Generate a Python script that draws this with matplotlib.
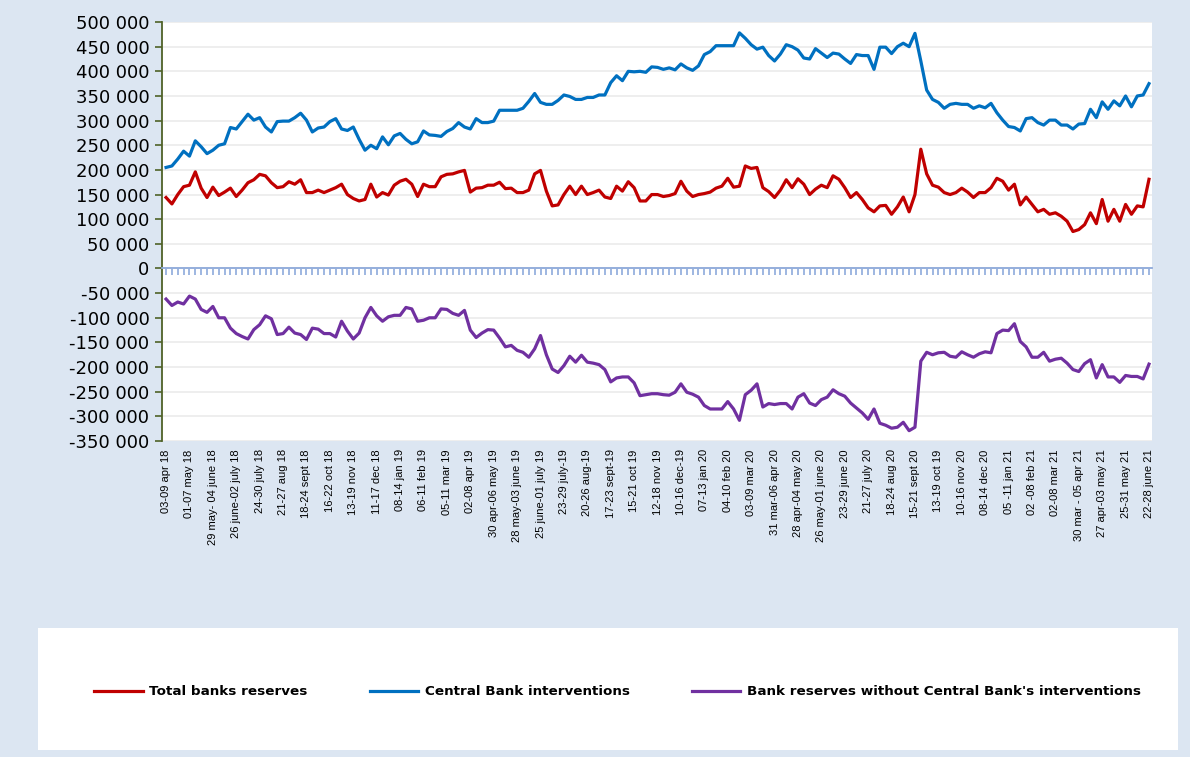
import numpy as np
import matplotlib
matplotlib.use("Agg")
import matplotlib.pyplot as plt
from matplotlib.ticker import FuncFormatter, FixedLocator
from matplotlib.patches import Rectangle

# ---------------- data (weekly, thousands) ----------------
total_reserves = [
    144, 131, 150, 166, 169, 196, 163, 144, 165, 148, 155, 163, 146, 159, 174, 180, 191, 188, 174, 164,
    166, 176, 171, 180, 154, 154, 159, 154, 159, 164, 171, 150, 142, 137, 140, 171, 145, 154, 149, 169,
    177, 181, 171, 146, 171, 166, 166, 186, 191, 192, 196, 199, 155, 163, 164, 169, 169, 175, 162, 163,
    154, 154, 159, 192, 199, 157, 127, 129, 150, 167, 150, 167, 150, 154, 159, 145, 142, 167, 157, 176,
    164, 137, 137, 150, 150, 146, 148, 152, 177, 157, 146, 150, 152, 155, 163, 167, 183, 165, 167, 208,
    203, 205, 164, 156, 144, 159, 180, 164, 182, 171, 150, 161, 169, 164, 188, 181, 164, 144, 154, 140,
    123, 115, 127, 128, 110, 125, 145, 115, 150, 242, 192, 169, 165, 154, 150, 154, 163, 155, 144, 154,
    154, 164, 183, 177, 159, 171, 129, 145, 130, 115, 120, 110, 113, 106, 96, 75, 79, 89, 113, 91,
    140, 96, 120, 96, 130, 110, 127, 125, 181,
]
central_bank = [
    205, 208, 222, 238, 228, 259, 247, 233, 240, 250, 253, 286, 283, 298, 313, 301, 306, 287, 277, 298,
    299, 299, 306, 315, 301, 277, 285, 287, 298, 304, 283, 280, 287, 262, 240, 250, 243, 267, 251, 269,
    274, 262, 253, 257, 279, 271, 270, 268, 278, 284, 296, 287, 283, 304, 296, 296, 299, 321, 321, 321,
    321, 325, 339, 355, 337, 333, 333, 341, 352, 349, 343, 343, 347, 347, 352, 352, 377, 391, 381, 400,
    399, 400, 398, 409, 408, 404, 407, 403, 415, 407, 402, 411, 434, 440, 452, 452, 452, 452, 478, 467,
    454, 445, 449, 432, 421, 435, 454, 450, 443, 427, 425, 446, 437, 428, 437, 435, 425, 416, 434, 432,
    432, 404, 449, 449, 436, 450, 457, 450, 477, 421, 362, 343, 337, 325, 333, 335, 333, 333, 325, 330,
    326, 335, 316, 301, 288, 286, 279, 304, 306, 296, 291, 301, 301, 291, 291, 283, 293, 294, 323, 306,
    338, 323, 340, 330, 350, 328, 350, 352, 375,
]
without_cb = [
    -62, -75, -68, -72, -56, -62, -83, -89, -77, -100, -100, -121, -132, -138, -143, -124, -114, -96, -102, -134,
    -132, -119, -131, -134, -144, -121, -123, -132, -132, -139, -107, -127, -143, -131, -100, -79, -96, -107, -98, -95,
    -95, -79, -82, -107, -105, -100, -100, -82, -83, -91, -95, -85, -125, -140, -131, -124, -125, -141, -159, -156,
    -166, -170, -180, -163, -136, -175, -204, -211, -197, -178, -190, -176, -190, -192, -195, -205, -230, -222, -220, -220,
    -232, -258, -256, -254, -254, -256, -257, -251, -234, -251, -255, -261, -278, -285, -285, -285, -270, -285, -308, -256,
    -247, -234, -281, -274, -276, -274, -274, -285, -261, -254, -273, -278, -266, -261, -246, -254, -259, -273, -283, -293,
    -306, -285, -314, -318, -324, -322, -312, -329, -322, -188, -170, -175, -171, -170, -178, -180, -169, -175, -180, -173,
    -169, -171, -132, -125, -126, -112, -148, -159, -180, -180, -170, -188, -184, -182, -192, -205, -209, -193, -185, -222,
    -195, -220, -220, -231, -217, -219, -219, -224, -194,
]
week_labels = [
    "03-09 apr 18", "01-07 may 18", "29 may- 04 june 18", "26 june-02 july 18", "24-30 july 18",
    "21-27 aug 18", "18-24 sept 18", "16-22 oct 18", "13-19 nov 18", "11-17 dec 18", "08-14 jan 19",
    "06-11 feb 19", "05-11 mar 19", "02-08 apr 19", "30 apr-06 may 19", "28 may-03 june 19",
    "25 june-01 july 19", "23-29 july-19", "20-26 aug-19", "17-23 sept-19", "15-21 oct 19",
    "12-18 nov 19", "10-16 dec-19", "07-13 jan 20", "04-10 feb 20", "03-09 mar 20",
    "31 mar-06 apr 20", "28 apr-04 may 20", "26 may-01 june 20", "23-29 june 20", "21-27 july 20",
    "18-24 aug 20", "15-21 sept 20", "13-19 oct 19", "10-16 nov 20", "08-14 dec 20",
    "05 -11 jan 21", "02 -08 feb 21", "02-08 mar 21", "30 mar - 05 apr 21", "27 apr-03 may 21",
    "25-31 may 21", "22-28 june 21",
]
series_names = ["Total banks reserves", "Central Bank interventions",
                "Bank reserves without Central Bank's interventions"]
label_step = 4

# ---------------- figure ----------------
BG = "#dce6f2"
fig = plt.figure(figsize=(11.9, 7.57), dpi=100, facecolor=BG)
ax = fig.add_axes([0.1361, 0.4174, 0.8319, 0.5535])
ax.set_facecolor("white")

x = np.arange(len(total_reserves))
scale = 1000
l1, = ax.plot(x, np.array(total_reserves) * scale, color="#c00000", lw=2.3, solid_joinstyle="round")
l2, = ax.plot(x, np.array(central_bank) * scale, color="#0070c0", lw=2.3, solid_joinstyle="round")
l3, = ax.plot(x, np.array(without_cb) * scale, color="#7030a0", lw=2.3, solid_joinstyle="round")

ax.set_ylim(-350000, 500000)
ax.set_xlim(-0.7, len(x) - 1 + 0.5)
ax.set_yticks(np.arange(-350000, 500001, 50000))
ax.yaxis.set_major_formatter(FuncFormatter(lambda v, p: f"{v:,.0f}".replace(",", " ")))
ax.grid(axis="y", color="#ebebeb", lw=1.2)
ax.set_axisbelow(True)

for s in ["top", "right"]:
    ax.spines[s].set_visible(False)
ax.spines["left"].set_color("#4f6228")
ax.spines["left"].set_linewidth(1.3)
ax.spines["bottom"].set_position(("data", 0))
ax.spines["bottom"].set_color("#8eaadb")
ax.spines["bottom"].set_linewidth(1.3)
ax.tick_params(axis="y", colors="#4f6228", direction="out", length=5, width=1.2,
               labelcolor="black", labelsize=13, pad=4)
ax.xaxis.set_major_locator(FixedLocator(x))
ax.tick_params(axis="x", colors="#8eaadb", direction="out", length=5, width=1.2,
               labelbottom=False)

sec = ax.secondary_xaxis(0)
sec.set_xticks(x[::label_step])
sec.set_xticklabels(week_labels, rotation=90, fontsize=8, family="Liberation Sans")
sec.tick_params(length=0, pad=6, labelcolor="black")
sec.spines["bottom"].set_visible(False)

# legend panel
fig.patches.append(Rectangle((0.0319, 0.0092), 0.958, 0.1612, transform=fig.transFigure,
                             facecolor="white", edgecolor="none", zorder=0))
fig.legend([l1, l2, l3], series_names, loc="center", bbox_to_anchor=(0.519, 0.0859),
           ncol=3, frameon=False, prop={"weight": "bold", "size": 9.7},
           handlelength=3.6, handletextpad=0.5, columnspacing=4.6)

fig.savefig("out.png", dpi=100, facecolor=BG)
